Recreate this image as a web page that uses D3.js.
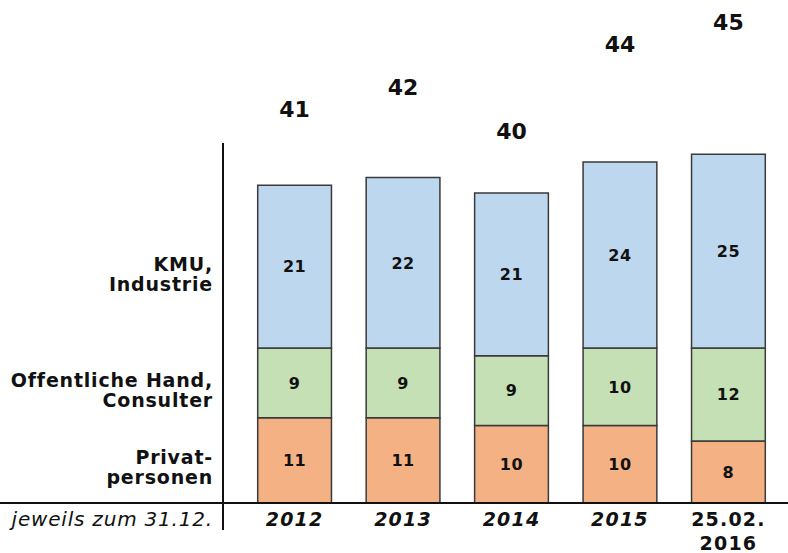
<!DOCTYPE html>
<html>
<head>
<meta charset="utf-8">
<script src="https://cdn.jsdelivr.net/npm/d3@7"></script>
<style>
    body { margin: 0; background: #fff; }
    svg { display: block; }
    text { font-family: "DejaVu Sans", Verdana, sans-serif; fill: #111; }
</style>
</head>
<body>
<div id="chart"></div>
<script>
// Stichtage (last one is a two-line label)
const periods = ["2012", "2013", "2014", "2015", "25.02.\n2016"];
const privat = [11, 11, 10, 10, 8];
const oeffentlich = [9, 9, 9, 10, 12];
const kmu = [21, 22, 21, 24, 25];
const totals = [41, 42, 40, 44, 45];
const seriesNames = ["Privat-\npersonen", "Offentliche Hand,\nConsulter", "KMU,\nIndustrie"];
const seriesColors = ["#f4b183", "#c5e0b4", "#bdd7ee"];
const footnote = "jeweils zum 31.12.";

const width = 788, height = 553;
const baseline = 503, axisX = 223;

const svg = d3.select('#chart')
    .append('svg')
    .attr('width', width)
    .attr('height', height);

const rows = periods.map((p, i) => ({ period: p, privat: privat[i], oeffentlich: oeffentlich[i], kmu: kmu[i], total: totals[i] }));
const keys = ["privat", "oeffentlich", "kmu"];
const stacked = d3.stack().keys(keys)(rows);

// Scales
const xScale = d3.scaleBand()
    .domain(periods)
    .range([axisX, 800])
    .paddingInner(0.32)
    .paddingOuter(0.32);

const yScale = d3.scaleLinear()
    .domain([0, 45])
    .range([baseline, baseline - 45 * 7.75]);

// total labels sit on their own (exaggerated) scale above the bars
const totalScale = d3.scaleLinear()
    .domain([40, 45])
    .range([139, 30]);

const color = d3.scaleOrdinal().domain(keys).range(seriesColors);

// Bars
const layers = svg.append('g').selectAll('g')
    .data(stacked)
    .join('g')
    .attr('fill', d => color(d.key));

layers.selectAll('rect')
    .data(d => d)
    .join('rect')
    .attr('x', d => xScale(d.data.period))
    .attr('y', d => yScale(d[1]))
    .attr('width', xScale.bandwidth())
    .attr('height', d => yScale(d[0]) - yScale(d[1]))
    .attr('stroke', '#3a3a3a')
    .attr('stroke-width', 1.5);

// Segment values
layers.selectAll('text')
    .data(d => d)
    .join('text')
    .attr('x', d => xScale(d.data.period) + xScale.bandwidth() / 2)
    .attr('y', d => (yScale(d[0]) + yScale(d[1])) / 2)
    .attr('dy', '0.36em')
    .attr('text-anchor', 'middle')
    .attr('font-weight', 'bold')
    .attr('font-size', 16)
    .attr('letter-spacing', 0.5)
    .text(d => d[1] - d[0]);

// Totals
svg.append('g').selectAll('text')
    .data(rows)
    .join('text')
    .attr('x', d => xScale(d.period) + xScale.bandwidth() / 2)
    .attr('y', d => totalScale(d.total))
    .attr('text-anchor', 'middle')
    .attr('font-weight', 'bold')
    .attr('font-size', 22)
    .text(d => d.total);

// Axis lines
svg.append('line')
    .attr('x1', 0).attr('x2', width)
    .attr('y1', baseline).attr('y2', baseline)
    .attr('stroke', '#111').attr('stroke-width', 2);

svg.append('line')
    .attr('x1', axisX).attr('x2', axisX)
    .attr('y1', 143).attr('y2', 530)
    .attr('stroke', '#111').attr('stroke-width', 2);

// Period labels
const xLabels = svg.append('g').selectAll('text')
    .data(periods)
    .join('text')
    .attr('x', d => xScale(d) + xScale.bandwidth() / 2)
    .attr('y', 526)
    .attr('text-anchor', 'middle')
    .attr('font-weight', 'bold')
    .attr('font-size', 19)
    .attr('letter-spacing', 1.2)
    .attr('font-style', d => d.includes('\n') ? 'normal' : 'italic');

xLabels.selectAll('tspan')
    .data(d => d.split('\n'))
    .join('tspan')
    .attr('x', function () { return d3.select(this.parentNode).attr('x'); })
    .attr('dy', (d, i) => i === 0 ? 0 : 24)
    .text(d => d);

svg.append('text')
    .attr('x', 213)
    .attr('y', 526)
    .attr('text-anchor', 'end')
    .attr('font-style', 'italic')
    .attr('font-size', 20)
    .attr('letter-spacing', 0.8)
    .text(footnote);

// Series labels on the left, centered on the 2012 segments
const first = stacked.map(s => s[0]);
const seriesLabels = svg.append('g').selectAll('text')
    .data(seriesNames)
    .join('text')
    .attr('text-anchor', 'end')
    .attr('font-weight', 'bold')
    .attr('font-size', 19)
    .attr('letter-spacing', 0.8)
    .attr('transform', (d, i) => `translate(213, ${(yScale(first[i][0]) + yScale(first[i][1])) / 2 + 4})`);

seriesLabels.selectAll('tspan')
    .data(d => d.split('\n'))
    .join('tspan')
    .attr('x', 0)
    .attr('dy', (d, i) => i === 0 ? 0 : 20)
    .text(d => d);
</script>
</body>
</html>
